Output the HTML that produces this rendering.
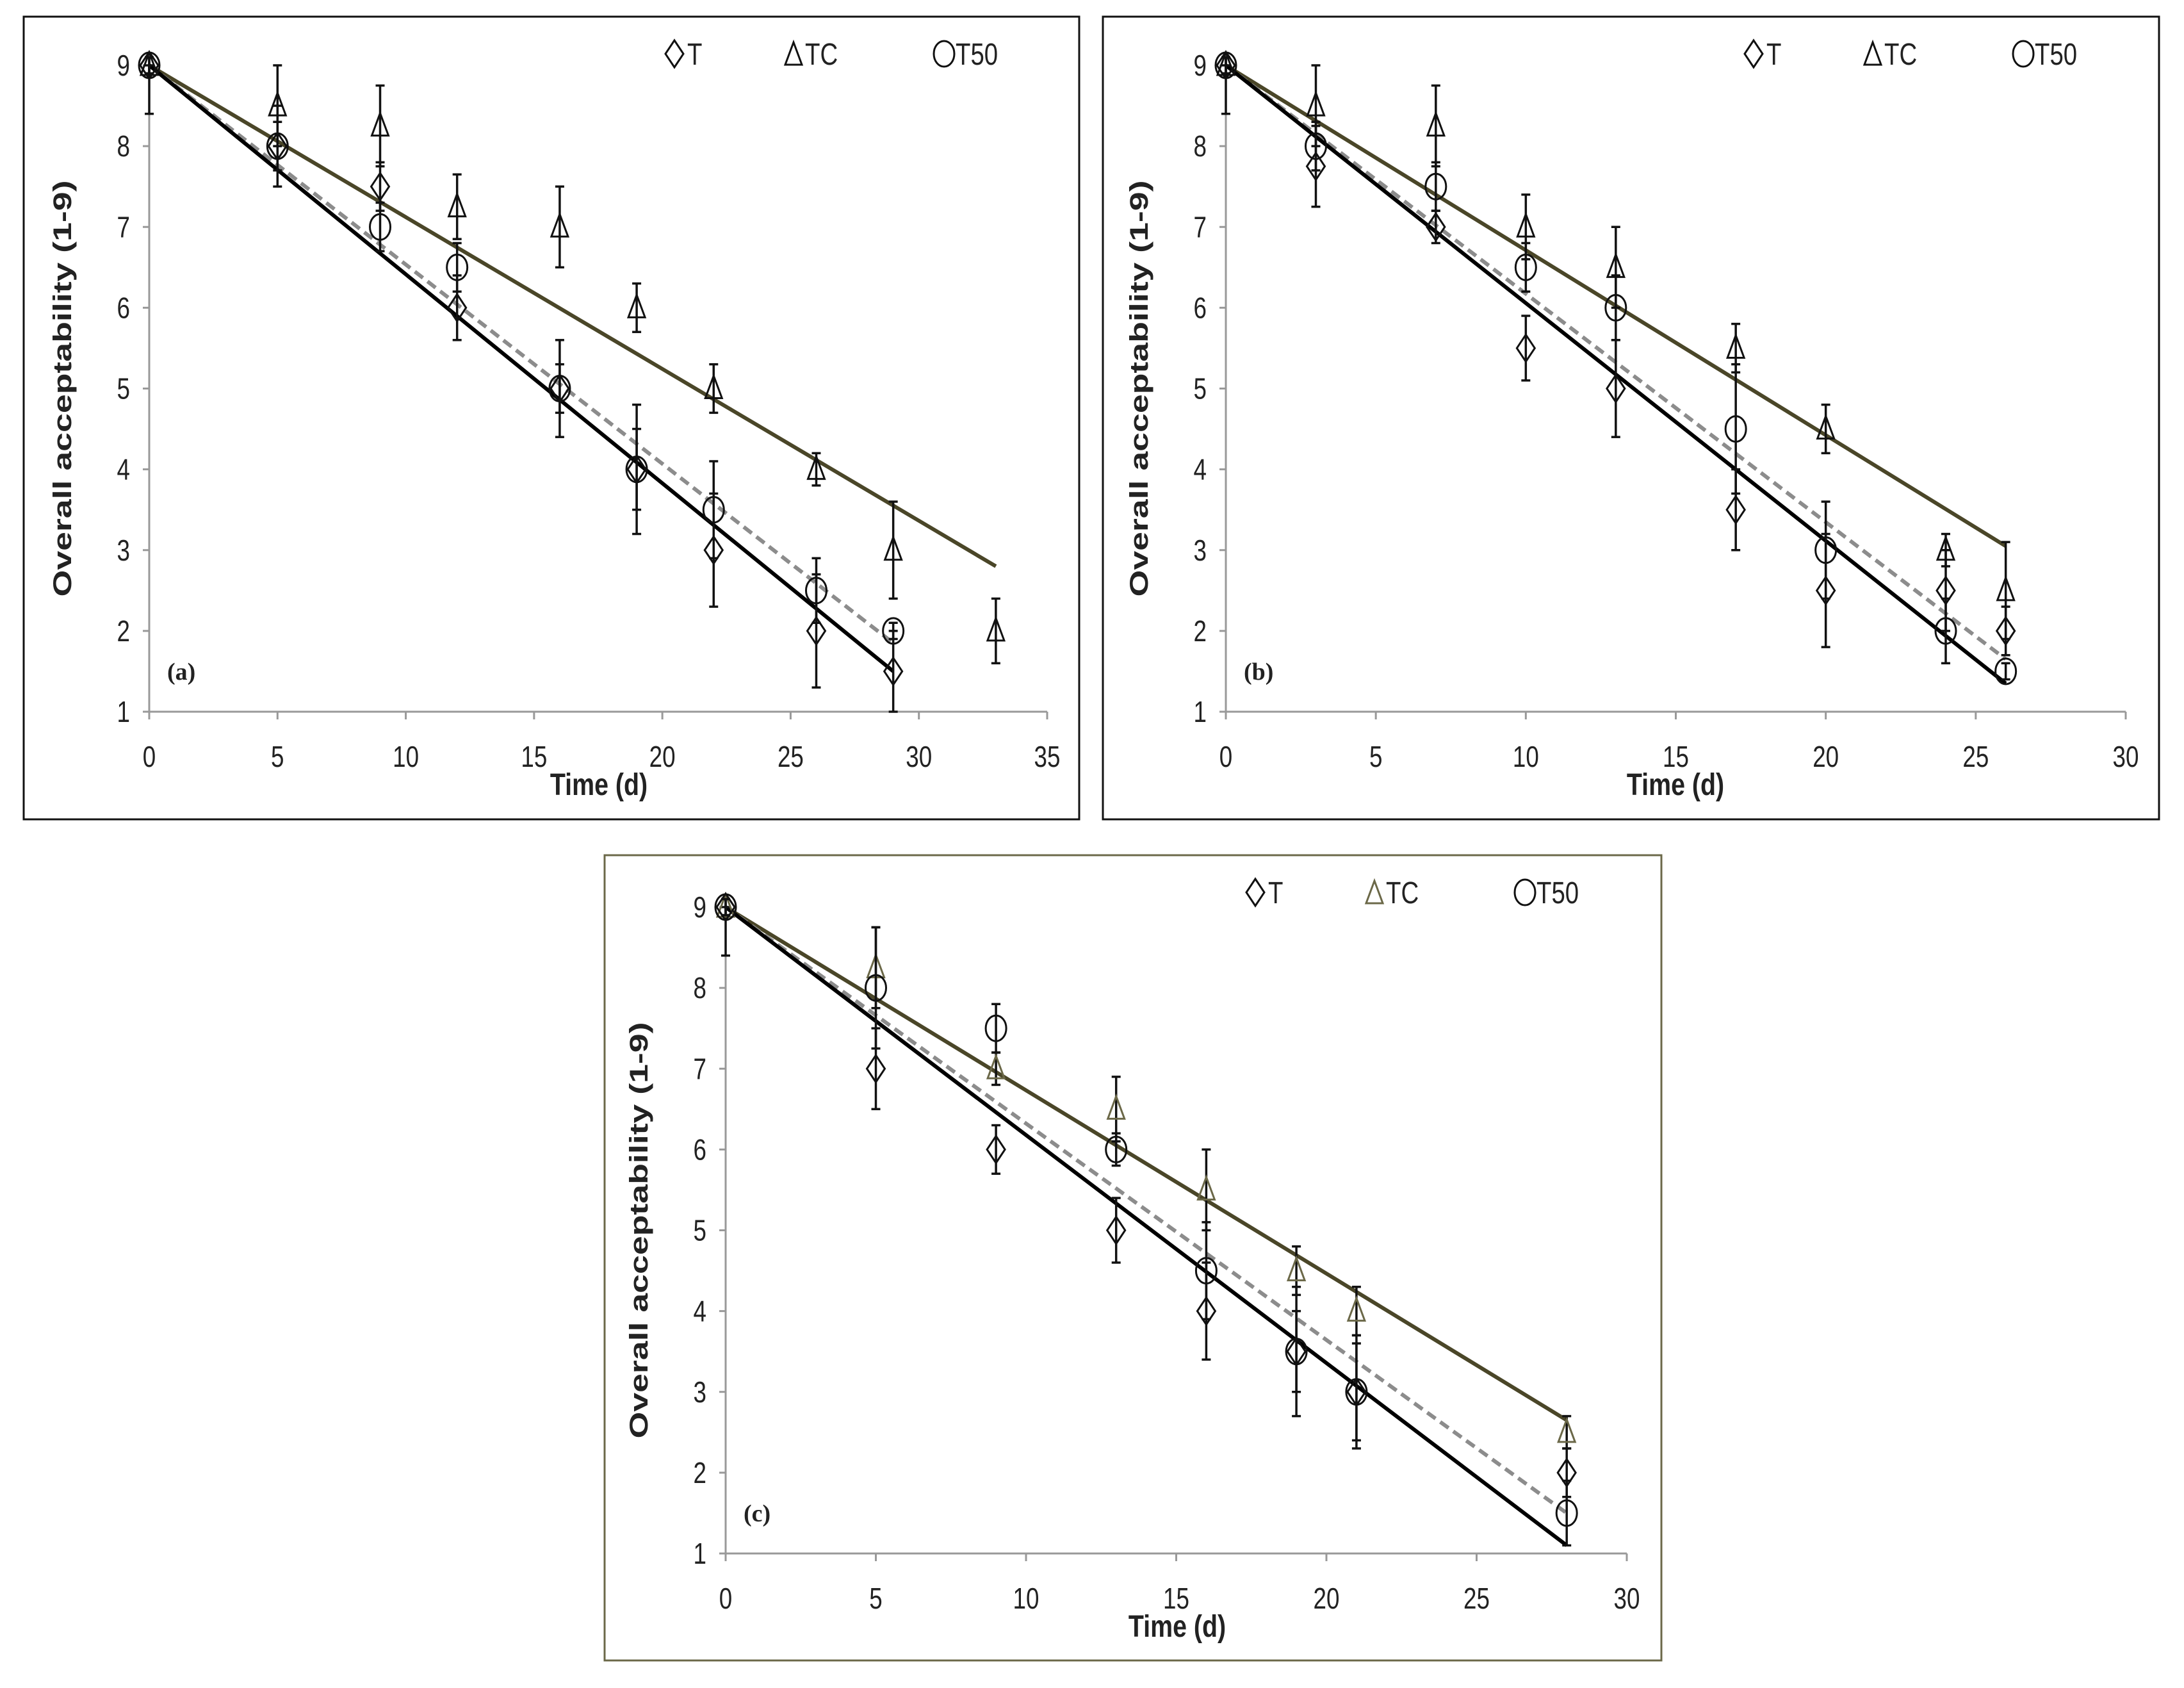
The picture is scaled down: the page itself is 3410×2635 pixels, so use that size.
<!DOCTYPE html>
<html><head><meta charset="utf-8">
<style>
html,body{margin:0;padding:0;background:#fff;}
svg{display:block;}
</style></head>
<body>
<svg id="fig" width="3410" height="2635" viewBox="0 0 3410 2635" xmlns="http://www.w3.org/2000/svg" font-family="Liberation Sans, sans-serif"></svg>
<script>
// ---------- Panel (a) data ----------
const aDays = [0,5,9,12,16,19,22,26,29];
const aT = [9,8,7.5,6,5,4,3,2,1.5];
const aTErr = [0.1,0.5,0.3,0.4,0.6,0.8,0.7,0.7,0.5];
const aTCDays = [0,5,9,12,16,19,22,26,29,33];
const aTC = [9,8.5,8.25,7.25,7,6,5,4,3,2];
const aTCErr = [0.1,0.5,0.5,0.4,0.5,0.3,0.3,0.2,0.6,0.4];
const aT50 = [9,8,7,6.5,5,4,3.5,2.5,2];
const aT50Err = [0.1,0.3,0.3,0.3,0.3,0.5,0.6,0.4,0.1];
const aFitT = [9,1.5], aFitTC = [9,2.8], aFitT50 = [9,1.85];
const aFitTEnd = 29, aFitTCEnd = 33, aFitT50End = 29;
const aXTicks = [0,5,10,15,20,25,30,35];

// ---------- Panel (b) data ----------
const bDays = [0,3,7,10,13,17,20,24,26];
const bT = [9,7.75,7,5.5,5,3.5,2.5,2.5,2];
const bTErr = [0.1,0.5,0.2,0.4,0.6,0.5,0.7,0.5,0.3];
const bTC = [9,8.5,8.25,7,6.5,5.5,4.5,3,2.5];
const bTCErr = [0.1,0.5,0.5,0.4,0.5,0.3,0.3,0.2,0.6];
const bT50 = [9,8,7.5,6.5,6,4.5,3,2,1.5];
const bT50Err = [0.1,0.3,0.3,0.3,0.4,0.8,0.6,0.4,0.1];
const bFitT = [9,1.35], bFitTC = [9,3.05], bFitT50 = [9,1.65];
const bFitEnd = 26;
const bXTicks = [0,5,10,15,20,25,30];

// ---------- Panel (c) data ----------
const cDays = [0,5,9,13,16,19,21,28];
const cT = [9,7,6,5,4,3.5,3,2];
const cTErr = [0.1,0.5,0.3,0.4,0.6,0.5,0.6,0.3];
const cTC = [9,8.25,7,6.5,5.5,4.5,4,2.5];
const cTCErr = [0.1,0.5,0.2,0.4,0.5,0.3,0.3,0.2];
const cT50 = [9,8,7.5,6,4.5,3.5,3,1.5];
const cT50Err = [0.1,0.75,0.3,0.2,0.6,0.8,0.7,0.4];
const cFitT = [9,1.1], cFitTC = [9,2.65], cFitT50 = [9,1.5];
const cFitEnd = 28;
const cXTicks = [0,5,10,15,20,25,30];

const yTicks = [1,2,3,4,5,6,7,8,9];

const NS = "http://www.w3.org/2000/svg";
const svg = document.getElementById('fig');
function mk(tag, attrs, parent){
  const e = document.createElementNS(NS, tag);
  for (const k in attrs) e.setAttribute(k, attrs[k]);
  (parent||svg).appendChild(e);
  return e;
}
function ctext(parent, x, y, str, size, anchor, bold, sx){
  const t = mk('text', {x:0, y:0, transform:`translate(${x},${y}) scale(${sx||0.8},1)`, 'text-anchor':anchor||'start', 'font-size':size, fill:'#222'}, parent);
  if (bold) t.setAttribute('font-weight','bold');
  t.textContent = str;
  return t;
}
const OLIVE = "#4a4628";

function panel(cfg){
  const g = mk('g', {});
  
  
  const frame = mk('rect', {x:cfg.fx, y:cfg.fy, width:cfg.fw, height:cfg.fh, fill:'none', stroke:cfg.frameColor, 'stroke-width':3}, g);
  
  
  const X = v => cfg.x0 + v / cfg.xmax * (cfg.x1 - cfg.x0);
  const Y = v => cfg.y1 + (v - 1) / 8 * (cfg.y9 - cfg.y1);
  const yax = mk('line', {x1:cfg.x0, y1:Y(1), x2:cfg.x0, y2:Y(9), stroke:'#999', 'stroke-width':3}, g);
  
  
  const xax = mk('line', {x1:cfg.x0, y1:Y(1), x2:X(cfg.xmax), y2:Y(1), stroke:'#999', 'stroke-width':3}, g);
  
  
  yTicks.forEach(v => {
    mk('line', {x1:cfg.x0-10, y1:Y(v), x2:cfg.x0, y2:Y(v), stroke:'#999', 'stroke-width':3}, g);
    const t = ctext(g, cfg.x0-30, Y(v)+16, String(v), 46, 'end');
    
    
  });
  cfg.xTicks.forEach(v => {
    mk('line', {x1:X(v), y1:Y(1), x2:X(v), y2:Y(1)+12, stroke:'#999', 'stroke-width':3}, g);
    const t = ctext(g, X(v), Y(1)+86, String(v), 46, 'middle');
    
    
  });
  const yt = mk('text', {x:0, y:0, transform:`translate(${cfg.x0-122},${(Y(1)+Y(9))/2}) rotate(-90)`, 'text-anchor':'middle', 'font-size':40, 'font-weight':'bold', fill:'#222', textLength:650, lengthAdjust:'spacingAndGlyphs'}, g);
  yt.textContent = 'Overall acceptability (1-9)';
  
  
  const xt = ctext(g, cfg.titleX, Y(1)+130, 'Time (d)', 48, 'middle', true, 0.82);
  
  
  const pl = mk('text', {x:cfg.x0+28, y:Y(1.5)+13, 'font-size':38, 'font-weight':'bold', fill:'#222', 'font-family':'Liberation Serif, serif'}, g);
  pl.textContent = '(' + cfg.id + ')';
  
  

  const lTC = mk('line', {x1:X(0), y1:Y(cfg.fitTC[0]), x2:X(cfg.fitTCEnd), y2:Y(cfg.fitTC[1]), stroke:OLIVE, 'stroke-width':6}, g);
  
  
  const l50 = mk('line', {x1:X(0), y1:Y(cfg.fitT50[0]), x2:X(cfg.fitT50End), y2:Y(cfg.fitT50[1]), stroke:'#8c8c8c', 'stroke-width':6, 'stroke-dasharray':'16 9'}, g);
  
  
  const lT = mk('line', {x1:X(0), y1:Y(cfg.fitT[0]), x2:X(cfg.fitTEnd), y2:Y(cfg.fitT[1]), stroke:'#000', 'stroke-width':6}, g);
  
  

  function err(px, vy, e){
    const gg = mk('g', {stroke:'#111', 'stroke-width':3.5}, g);
    
    
    mk('line', {x1:px, y1:Y(vy-e), x2:px, y2:Y(vy+e)}, gg);
    mk('line', {x1:px-7, y1:Y(vy-e), x2:px+7, y2:Y(vy-e)}, gg);
    mk('line', {x1:px-7, y1:Y(vy+e), x2:px+7, y2:Y(vy+e)}, gg);
  }
  function diamond(px, py, parent){
    return mk('polygon', {points:`${px},${py-21} ${px+14},${py} ${px},${py+21} ${px-14},${py}`, fill:'none', stroke:'#111', 'stroke-width':3}, parent);
  }
  function tri(px, py, col, parent){
    return mk('polygon', {points:`${px},${py-20} ${px+13},${py+15} ${px-13},${py+15}`, fill:'none', stroke:col, 'stroke-width':3}, parent);
  }
  function circ(px, py, parent){
    return mk('ellipse', {cx:px, cy:py, rx:16, ry:20, fill:'none', stroke:'#111', 'stroke-width':3}, parent);
  }
  // small lower whisker at day 0
  err(X(0), 8.7, 0.3);
  cfg.tcDays.forEach((d,i) => {
    err(X(d), cfg.tc[i], cfg.tcErr[i]);
    const m = tri(X(d), Y(cfg.tc[i]), cfg.triColor, g);
    
    
  });
  cfg.days.forEach((d,i) => {
    err(X(d), cfg.t[i], cfg.tErr[i]);
    const m = diamond(X(d), Y(cfg.t[i]), g);
    
    
  });
  cfg.days.forEach((d,i) => {
    err(X(d), cfg.t50[i], cfg.t50Err[i]);
    const m = circ(X(d), Y(cfg.t50[i]), g);
    
    
  });

  const lg = mk('g', {}, g);
  
  
  const ly = cfg.fy + 58;
  const lx = cfg.fx;
  const e1 = mk('g', {}, lg);
  
  
  diamond(lx+1016, ly, e1);
  ctext(e1, lx+1036, ly+17, 'T', 48);
  const e2 = mk('g', {}, lg);
  
  
  tri(lx+1202, ly+2, cfg.triColor, e2);
  ctext(e2, lx+1220, ly+17, 'TC', 48);
  const e3 = mk('g', {}, lg);
  
  
  circ(lx+1437, ly, e3);
  ctext(e3, lx+1455, ly+17, 'T50', 48);
}

panel({id:'a', fx:37, fy:26, fw:1648, fh:1253, frameColor:'#111',
  x0:233, x1:1635, xmax:35, y1:1111, y9:102, xTicks:aXTicks, titleX:935,
  days:aDays, t:aT, tErr:aTErr, tcDays:aTCDays, tc:aTC, tcErr:aTCErr, t50:aT50, t50Err:aT50Err,
  fitT:aFitT, fitTC:aFitTC, fitT50:aFitT50, fitTEnd:aFitTEnd, fitTCEnd:aFitTCEnd, fitT50End:aFitT50End, triColor:'#111'});
panel({id:'b', fx:1722, fy:26, fw:1649, fh:1253, frameColor:'#111',
  x0:1914, x1:3319, xmax:30, y1:1111, y9:102, xTicks:bXTicks, titleX:2616,
  days:bDays, t:bT, tErr:bTErr, tcDays:bDays, tc:bTC, tcErr:bTCErr, t50:bT50, t50Err:bT50Err,
  fitT:bFitT, fitTC:bFitTC, fitT50:bFitT50, fitTEnd:bFitEnd, fitTCEnd:bFitEnd, fitT50End:bFitEnd, triColor:'#111'});
panel({id:'c', fx:944, fy:1335, fw:1650, fh:1257, frameColor:'#6b6848',
  x0:1133, x1:2540, xmax:30, y1:2425, y9:1416, xTicks:cXTicks, titleX:1838,
  days:cDays, t:cT, tErr:cTErr, tcDays:cDays, tc:cTC, tcErr:cTCErr, t50:cT50, t50Err:cT50Err,
  fitT:cFitT, fitTC:cFitTC, fitT50:cFitT50, fitTEnd:cFitEnd, fitTCEnd:cFitEnd, fitT50End:cFitEnd, triColor:'#6b6848'});
</script>
</body></html>
